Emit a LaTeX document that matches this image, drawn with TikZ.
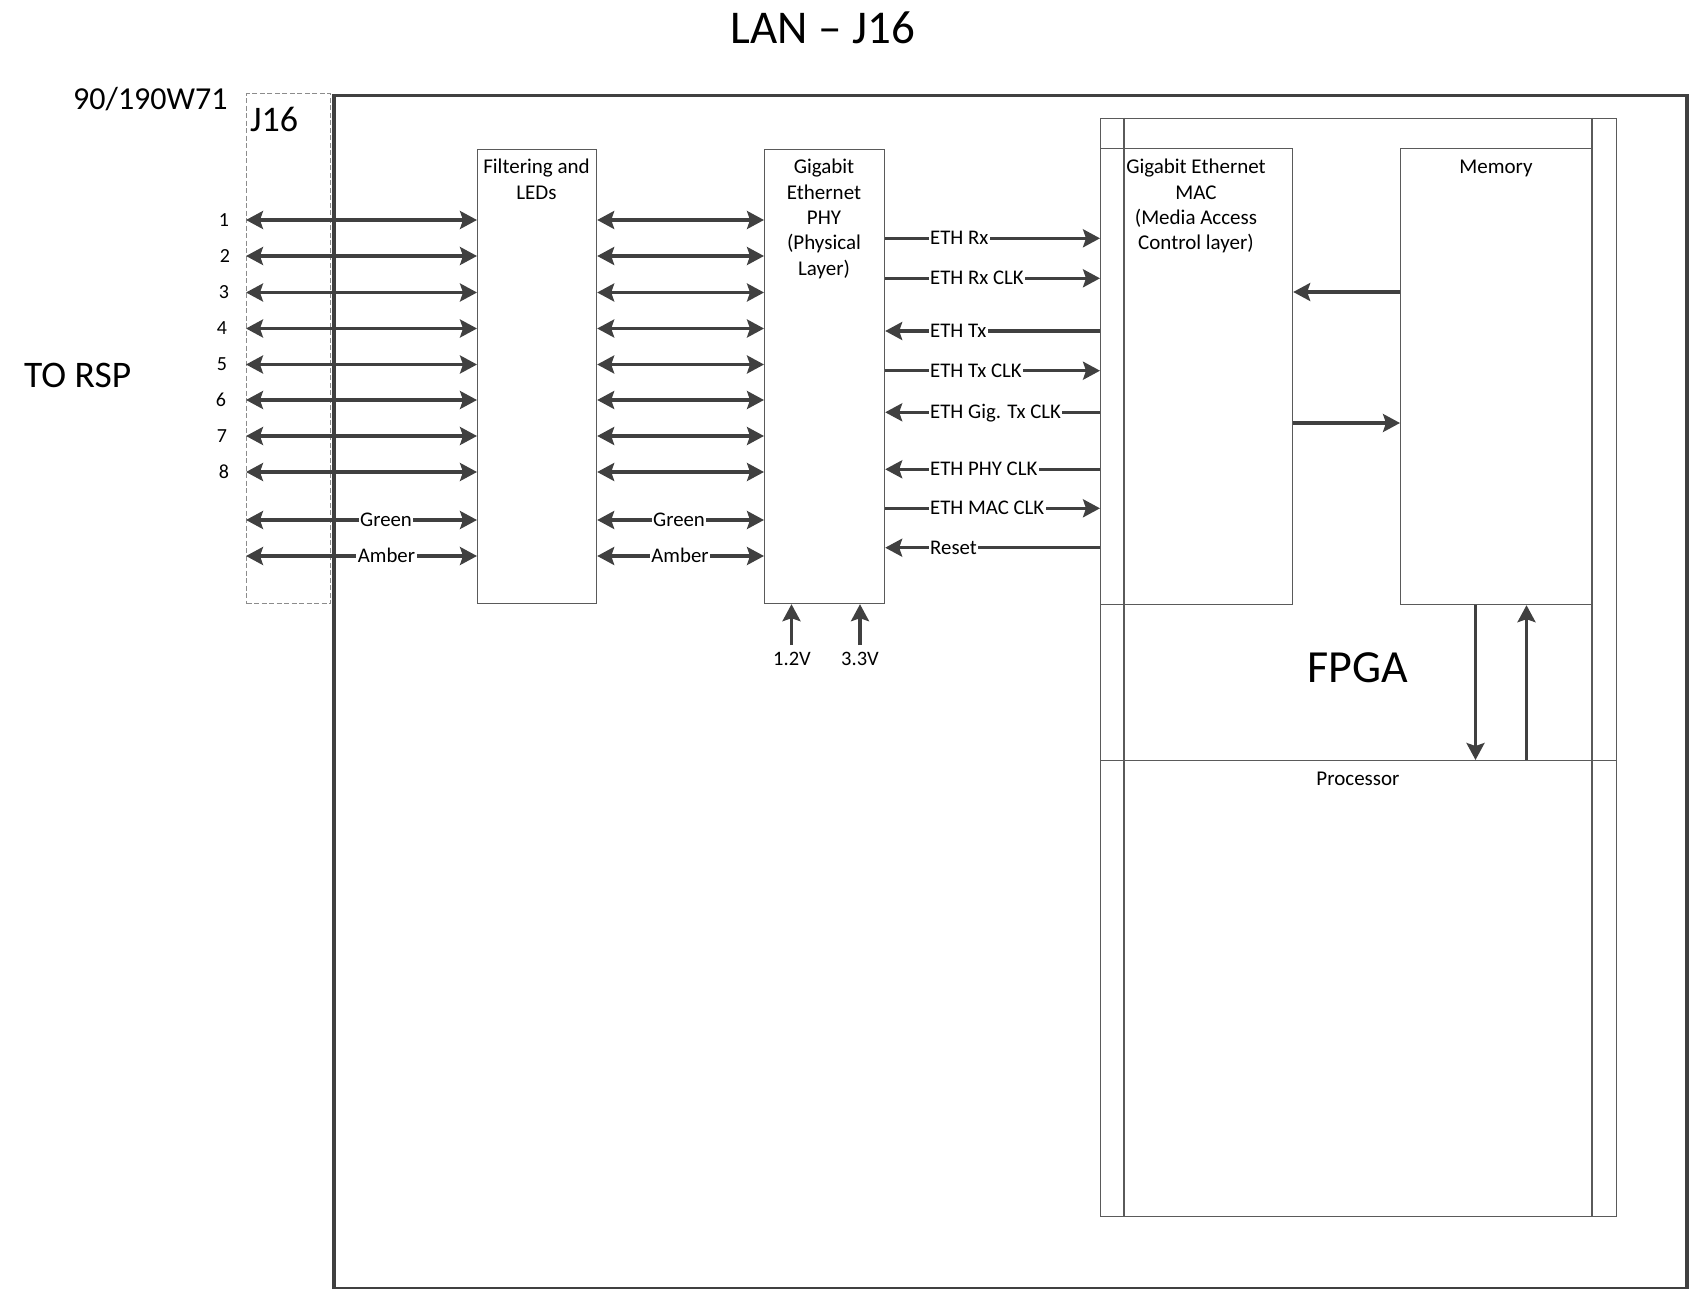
\documentclass[tikz,border=0pt]{standalone}
\usepackage{fontspec}
\setmainfont{Carlito}
\usetikzlibrary{arrows.meta}
\definecolor{arrc}{HTML}{404040}
\definecolor{boxc}{HTML}{5A5A5A}
\definecolor{dashc}{HTML}{8C8C8C}
\begin{document}
\begin{tikzpicture}[x=1pt,y=-1pt,
  box/.style={draw=boxc, line width=1.2pt, inner sep=0pt, anchor=north west},
  arr/.style={draw=arrc, line width=3.1pt, -{Stealth[length=17pt,width=18pt,inset=3pt]}},
  dbl/.style={draw=arrc, line width=3.1pt, {Stealth[length=17pt,width=18pt,inset=3pt]}-{Stealth[length=17pt,width=18pt,inset=3pt]}},
  boxtxt/.style={font=\fontsize{21}{25.4}\selectfont, align=center, inner sep=0pt, anchor=north},
  lbl/.style={font=\fontsize{20.8}{24}\selectfont, fill=white, inner sep=1.5pt, text height=13.3pt, text depth=0pt},
  num/.style={font=\fontsize{20}{24}\selectfont, inner sep=0pt},
  plain/.style={font=\fontsize{20.5}{24}\selectfont, inner sep=0pt, anchor=base}
]
\useasboundingbox (0,0) rectangle (1695,1289);

% titles
\node[font=\fontsize{47}{56}\selectfont, inner sep=0pt, anchor=base] (title) at (823,44) {LAN – J16};
\node[font=\fontsize{32}{38}\selectfont, inner sep=0pt, anchor=base west] (cable) at (73,110) {90/190W71};
\node[font=\fontsize{37.5}{44}\selectfont, inner sep=0pt, anchor=base west] (torsp) at (24,388) {TO RSP};

% board and connector
\node[draw=arrc, line width=3.5pt, inner sep=0pt, anchor=north west, minimum width=1353pt, minimum height=1193pt] (board) at (332,94) {};
\node[draw=dashc, line width=1.1pt, dash pattern=on 5pt off 2.5pt, inner sep=0pt, anchor=north west, minimum width=84pt, minimum height=510pt] (j16) at (246,93) {};
\node[font=\fontsize{36}{43}\selectfont, inner sep=0pt, anchor=base west] (j16lbl) at (250,132) {J16};

% main blocks
\node[box, minimum width=119pt, minimum height=454pt] (filt) at (477,149) {};
\node[boxtxt] (filttxt) at (536.5,159) {Filtering and\\LEDs};
\node[box, minimum width=120pt, minimum height=454pt] (phy) at (764,149) {};
\node[boxtxt] (phytxt) at (824,159) {Gigabit\\Ethernet\\PHY\\(Physical\\Layer)};

% FPGA container
\node[box, minimum width=516pt, minimum height=1098pt] (fpga) at (1100,118) {};
\draw[boxc, line width=1.2pt] (1124,118) -- (1124,1216);
\draw[boxc, line width=1.2pt] (1592,118) -- (1592,1216);
\node[box, minimum width=192pt, minimum height=456pt] (mac) at (1100,148) {};
\node[boxtxt] (mactxt) at (1196,159) {Gigabit Ethernet\\MAC\\(Media Access\\Control layer)};
\node[box, minimum width=192pt, minimum height=456pt] (mem) at (1400,148) {};
\node[boxtxt] (memtxt) at (1496,160) {Memory};
\node[box, minimum width=516pt, minimum height=456pt] (proc) at (1100,760) {};
\node[font=\fontsize{21}{25}\selectfont, inner sep=0pt, anchor=base] (proctxt) at (1358,785) {Processor};
\node[font=\fontsize{46}{55}\selectfont, inner sep=0pt, anchor=base] (fpgatxt) at (1358,682) {FPGA};

% pins 1-8
\foreach \n/\y/\lx in {1/220/224, 2/256/225, 3/292.5/224, 4/328.5/222, 5/364.5/222, 6/400/221, 7/436/222, 8/472/224}{
  \coordinate (r\n) at (0,\y);
  \node[num] (n\n) at (\lx,\y) {\n};
  \draw[dbl] (j16.west |- r\n) -- (filt.west |- r\n);
  \draw[dbl] (filt.east |- r\n) -- (phy.west |- r\n);
}

% LED lines
\coordinate (rg) at (0,520);
\coordinate (ra) at (0,556);
\draw[dbl] (j16.west |- rg) -- (filt.west |- rg);
\draw[dbl] (filt.east |- rg) -- (phy.west |- rg);
\draw[dbl] (j16.west |- ra) -- (filt.west |- ra);
\draw[dbl] (filt.east |- ra) -- (phy.west |- ra);
\node[lbl] (g1) at (386,520) {Green};
\node[lbl] (a1) at (386.5,556) {Amber};
\node[lbl] (g2) at (679,520) {Green};
\node[lbl] (a2) at (680,556) {Amber};

% PHY <-> MAC signals
\foreach \n/\y/\txt in {a/238.3/ETH Rx, b/278.3/ETH Rx CLK, d/370.7/ETH Tx CLK, g/508.3/ETH MAC CLK}{
  \coordinate (s\n) at (0,\y);
  \draw[arr] (phy.east |- s\n) -- (mac.west |- s\n);
  \node[lbl, anchor=west] (l\n) at (928.5,\y) {\txt};
}
\foreach \n/\y/\txt in {c/331/ETH Tx, e/412.3/ETH Gig. Tx CLK, f/469.3/ETH PHY CLK, h/547.7/Reset}{
  \coordinate (s\n) at (0,\y);
  \draw[arr] (mac.west |- s\n) -- (phy.east |- s\n);
  \node[lbl, anchor=west] (l\n) at (928.5,\y) {\txt};
}

% MAC <-> Memory
\coordinate (m1) at (0,292);
\coordinate (m2) at (0,423);
\draw[arr] (mem.west |- m1) -- (mac.east |- m1);
\draw[arr] (mac.east |- m2) -- (mem.west |- m2);

% Memory <-> Processor
\coordinate (p1) at (1475.5,0);
\coordinate (p2) at (1526.5,0);
\draw[arr] (mem.south -| p1) -- (proc.north -| p1);
\draw[arr] (proc.north -| p2) -- (mem.south -| p2);

% supplies
\coordinate (t1) at (791.5,645);
\coordinate (t2) at (860,645);
\draw[arr] (t1) -- (phy.south -| t1);
\draw[arr] (t2) -- (phy.south -| t2);
\node[plain] (v1) at (792,665) {1.2V};
\node[plain] (v2) at (860,665) {3.3V};
\end{tikzpicture}
\end{document}
